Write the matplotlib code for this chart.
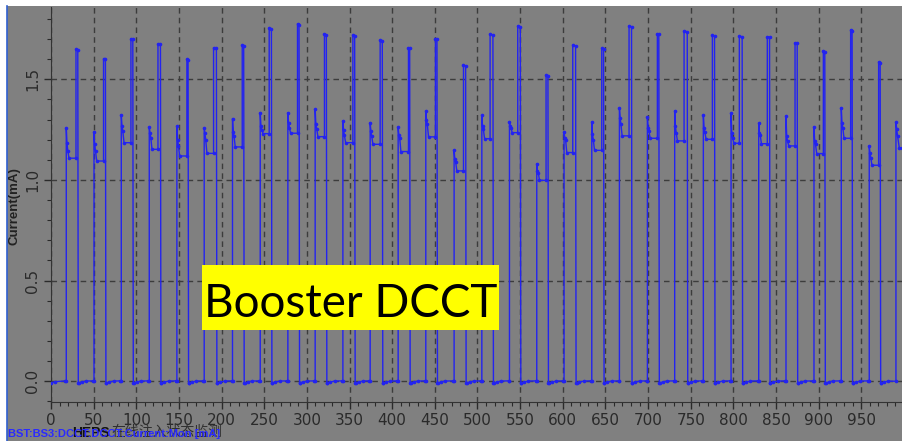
import matplotlib
matplotlib.use("Agg")
import matplotlib.pyplot as plt
from matplotlib.patches import Rectangle
from matplotlib.lines import Line2D
from matplotlib.ticker import MultipleLocator
import numpy as np

# pulse data
starts = [17.9, 50.4, 82.4, 115.2, 147.6, 179.6, 212.8, 245.3, 277.7, 309.7,
          342.2, 374.2, 407.0, 439.4, 472.6, 505.1, 537.5, 569.5, 601.5, 634.0,
          666.4, 699.2, 731.2, 764.8, 797.3, 829.7, 861.7, 894.5, 926.5, 959.3]
spike_t = [29.3, 61.6, 93.7, 125.4, 159.3, 190.6, 224.2, 255.8, 289.0, 320.6,
           353.9, 385.9, 419.1, 450.7, 483.6, 514.8, 547.2, 580.4, 611.7, 645.7,
           677.7, 710.9, 742.2, 775.4, 807.0, 839.8, 872.3, 905.5, 937.5, 970.3]
drop_t = [32.0, 64.4, 96.5, 128.9, 161.3, 194.5, 226.5, 259.0, 291.4, 323.4,
          356.6, 389.0, 421.1, 453.1, 486.7, 518.7, 550.8, 583.2, 615.6, 648.4,
          681.2, 713.2, 746.5, 778.5, 810.9, 843.0, 875.4, 907.8, 939.8, 972.7]
inj_top = [1.260, 1.238, 1.323, 1.263, 1.268, 1.260, 1.305, 1.334, 1.334, 1.350,
           1.293, 1.285, 1.263, 1.343, 1.147, 1.321, 1.290, 1.081, 1.238, 1.288,
           1.359, 1.313, 1.343, 1.323, 1.331, 1.281, 1.318, 1.265, 1.359, 1.169]
decay1 = [1.185, 1.177, 1.268, 1.235, 1.200, 1.235, 1.238, 1.270, 1.285, 1.276,
          1.247, 1.243, 1.224, 1.300, 1.106, 1.268, 1.268, 1.045, 1.210, 1.227,
          1.310, 1.260, 1.268, 1.260, 1.235, 1.235, 1.218, 1.194, 1.285, 1.136]
decay2 = [1.145, 1.144, 1.243, 1.210, 1.170, 1.200, 1.218, 1.250, 1.260, 1.255,
          1.222, 1.218, 1.210, 1.276, 1.089, 1.252, 1.257, 1.036, 1.200, 1.200,
          1.276, 1.243, 1.235, 1.238, 1.210, 1.222, 1.194, 1.177, 1.260, 1.110]
plateau = [1.108, 1.094, 1.185, 1.152, 1.119, 1.132, 1.164, 1.230, 1.232, 1.215,
           1.185, 1.177, 1.141, 1.214, 1.045, 1.205, 1.235, 0.998, 1.136, 1.147,
           1.219, 1.207, 1.194, 1.202, 1.182, 1.180, 1.169, 1.131, 1.207, 1.073]
peak = [1.649, 1.603, 1.702, 1.677, 1.600, 1.657, 1.670, 1.753, 1.776, 1.725,
        1.718, 1.694, 1.657, 1.702, 1.571, 1.723, 1.765, 1.520, 1.670, 1.654,
        1.765, 1.727, 1.740, 1.718, 1.715, 1.712, 1.682, 1.640, 1.745, 1.586]
# last pulse, cut at the right edge
last_t = [990.6, 990.6, 991.5, 992.5, 994.5, 997.7]
last_v = [0.0, 1.288, 1.252, 1.218, 1.160, 1.160]

xt = [0.0, 5.0]
yt = [-0.008, -0.002]
for i in range(len(starts)):
    s = starts[i]
    xt += [s - 1.0, s, s, s + 0.8, s + 1.8, s + 3.2, spike_t[i], spike_t[i],
           drop_t[i] - 0.6, drop_t[i], drop_t[i] + 0.5, drop_t[i] + 4, drop_t[i] + 9]
    yt += [0.002, 0.002, inj_top[i], decay1[i], decay2[i], plateau[i], plateau[i], peak[i],
           peak[i] - 0.004, -0.008, -0.008, -0.004, 0.001]
xt += last_t
yt += last_v

bg = '#808080'
fig = plt.figure(figsize=(9.02, 4.41), dpi=100, facecolor=bg)
ax = fig.add_axes([51/902, 39/441, 851/902, 395/441], facecolor=bg)

ax.plot(xt, yt, color='#2323f0', lw=1.0, marker='o', ms=1.6, zorder=3)

ax.set_xlim(0, 997.7)
ax.set_ylim(-0.103, 1.859)
ax.set_xticks(np.arange(0, 1000, 50))
ax.xaxis.set_minor_locator(MultipleLocator(10))
ax.set_yticks([0.0, 0.5, 1.0, 1.5])
ax.set_yticklabels(['0.0', '0.5', '1.0', '1.5'])
ax.yaxis.set_minor_locator(MultipleLocator(0.1))
ax.tick_params(axis='x', which='major', length=5, width=1, colors='#2a2a2a', labelsize=11, pad=3)
ax.tick_params(axis='y', which='major', length=5, width=1, colors='#2a2a2a', labelsize=11, pad=3)
ax.tick_params(which='minor', length=3, width=0.8, colors='#2a2a2a')
plt.setp(ax.get_yticklabels(), rotation=90, va='center')
ax.grid(which='major', color='#3c3c3c', linestyle=(0, (4, 3)), linewidth=1.0)
for side in ['top', 'right']:
    ax.spines[side].set_visible(False)
for side in ['left', 'bottom']:
    ax.spines[side].set_color('#333333')

fig.text(15/902, 1 - 206/441, 'Current(mA)', rotation=90, ha='center', va='center',
         fontsize=9.5, fontweight='bold', family='Liberation Sans', color='#222222')

# white frame edges
fig.add_artist(Rectangle((0, 1 - 6/441), 1, 6/441, transform=fig.transFigure,
                         facecolor='white', edgecolor='none', zorder=10))
fig.add_artist(Rectangle((0, 0), 7/902, 1, transform=fig.transFigure,
                         facecolor='white', edgecolor='none', zorder=10))
fig.add_artist(Line2D([7.5/902, 7.5/902], [0, 1 - 6/441], transform=fig.transFigure,
                      color='#3060d0', lw=1.2, zorder=11))

# yellow label
fig.add_artist(Rectangle((202/902, 1 - 330/441), 297/902, 65/441, transform=fig.transFigure,
                         facecolor='#ffff00', edgecolor='none', zorder=10))
fig.text(351/902, 1 - 317/441, 'Booster DCCT', ha='center', va='baseline',
         fontsize=33, family='Lato', color='black', zorder=11)

# bottom captions
fig.text(72/902, 1 - 433/441, 'HEPS', ha='left', va='center', fontsize=10,
         fontweight='bold', family='Liberation Sans', color='#111111', zorder=11)
fig.text(111/902, 1 - 432/441, '在线注入状态监测', ha='left', va='center', fontsize=10,
         family=['Noto Sans CJK SC', 'DejaVu Sans'], color='#303030', zorder=11)
fig.text(8/902, 1 - 434/441, 'BST:BS3:DCCT:DCCT:Current:Mon [mA]', ha='left', va='center',
         fontsize=8, fontweight='bold', family='Liberation Sans', color='#2a2aff', zorder=12)

fig.savefig('out.png', dpi=100, facecolor=bg)
